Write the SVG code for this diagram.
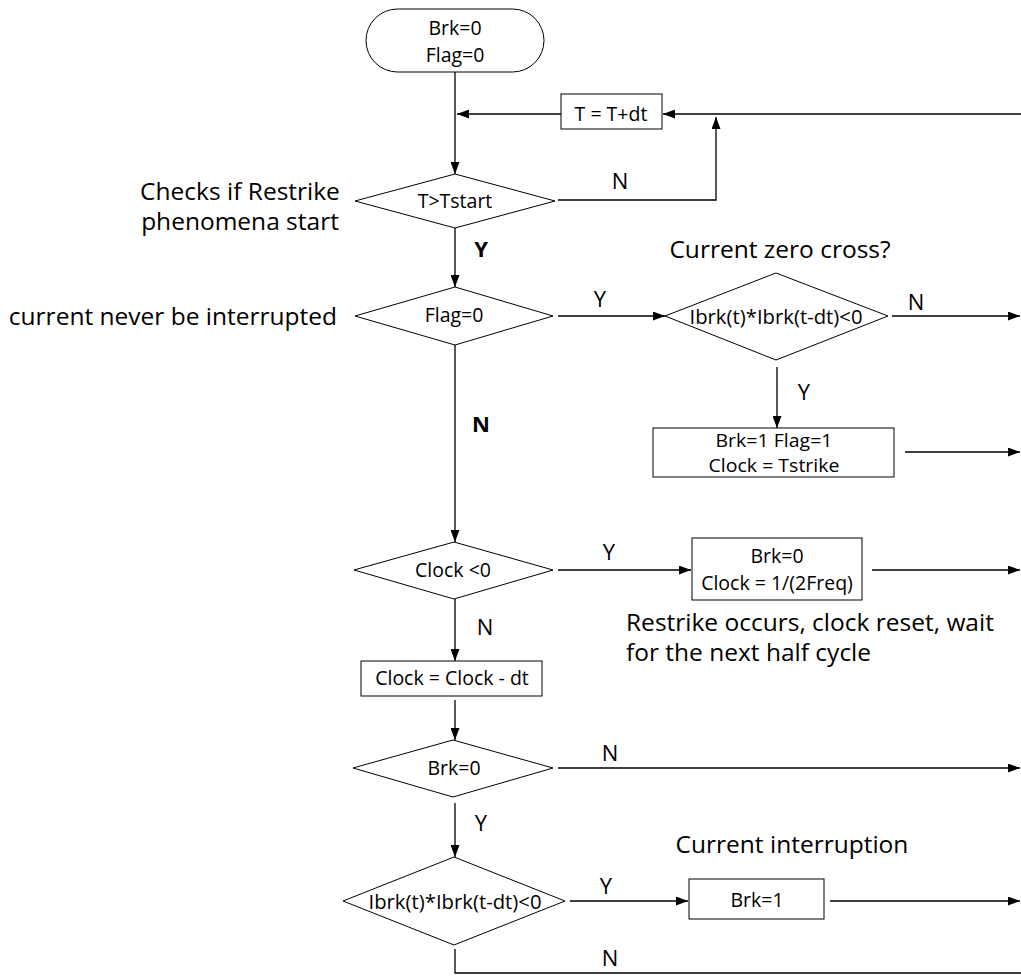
<svg xmlns="http://www.w3.org/2000/svg" width="1021" height="976" viewBox="0 0 1021 976">
<defs>
<marker id="ah" markerUnits="userSpaceOnUse" markerWidth="13" markerHeight="9" refX="12" refY="4.5" orient="auto">
<path d="M0,0 L12,4.5 L0,9 z" fill="#000"/>
</marker>
<style>
.shape{fill:#fff;stroke:#000;stroke-width:1}
.conn{fill:none;stroke:#000;stroke-width:1.3}
.arr{marker-end:url(#ah)}
text{font-family:'Open Sans','Noto Sans',sans-serif;fill:#000}
.t{font-size:19.5px;text-anchor:middle}
.s{font-size:18px}
.ann{font-size:24.5px}
.lbl{font-size:22px;text-anchor:middle}
.b{font-weight:bold}
</style>
</defs>
<rect width="1021" height="976" fill="#fff"/>

<g id="connectors">
<path class="conn arr" d="M455,72 L455,174"/>
<path class="conn arr" d="M561,114 L457,114"/>
<path class="conn arr" d="M1021,114 L663,114"/>
<path class="conn arr" d="M558,200 L716,200 L716,117"/>
<path class="conn arr" d="M455,228 L455,287"/>
<path class="conn arr" d="M558,316 L665,316"/>
<path class="conn arr" d="M892,316 L1020,316"/>
<path class="conn arr" d="M777,367 L777,428"/>
<path class="conn arr" d="M905,452 L1020,452"/>
<path class="conn arr" d="M455,345 L455,542"/>
<path class="conn arr" d="M558,570 L691,570"/>
<path class="conn arr" d="M872,570 L1020,570"/>
<path class="conn arr" d="M455,599 L455,661"/>
<path class="conn arr" d="M455,700 L455,740"/>
<path class="conn arr" d="M558,768 L1020,768"/>
<path class="conn arr" d="M455,803 L455,857"/>
<path class="conn arr" d="M570,901 L688,901"/>
<path class="conn arr" d="M830,901 L1020,901"/>
<path class="conn" d="M455,949 L455,973 L1021,973"/>
</g>

<g id="start">
<rect class="shape" x="366" y="9" width="178" height="63" rx="31.5"/>
<text class="t" x="455" y="35">Brk=0</text>
<text class="t" x="455" y="62">Flag=0</text>
</g>

<g id="inc-time">
<rect class="shape" x="561" y="94" width="101" height="35"/>
<text class="t" x="611" y="121">T = T+dt</text>
</g>

<g id="check-start">
<polygon class="shape" points="455,174 555,201 455,228 355,201"/>
<text class="t" x="455" y="208">T&gt;Tstart</text>
</g>

<g id="check-flag">
<polygon class="shape" points="455,287 553,316 455,345 355,316"/>
<text class="t" x="454" y="322">Flag=0</text>
</g>

<g id="zero-cross-1">
<polygon class="shape" points="776,273 888,316 776,360 665,316"/>
<text class="t" x="776" y="324" textLength="173" lengthAdjust="spacingAndGlyphs">Ibrk(t)*Ibrk(t-dt)&lt;0</text>
</g>

<g id="set-flag">
<rect class="shape" x="653" y="428" width="241" height="49"/>
<text class="t s" x="774" y="447" textLength="117" lengthAdjust="spacingAndGlyphs">Brk=1 Flag=1</text>
<text class="t s" x="774" y="472" textLength="131" lengthAdjust="spacingAndGlyphs">Clock = Tstrike</text>
</g>

<g id="check-clock">
<polygon class="shape" points="454,542 553,570 454,599 354,570"/>
<text class="t" x="453" y="577">Clock &lt;0</text>
</g>

<g id="restrike">
<rect class="shape" x="692" y="538" width="170" height="62"/>
<text class="t" x="777" y="563">Brk=0</text>
<text class="t" x="777" y="590">Clock = 1/(2Freq)</text>
</g>

<g id="dec-clock">
<rect class="shape" x="361" y="661" width="181" height="35"/>
<text class="t" x="452" y="685">Clock = Clock - dt</text>
</g>

<g id="check-brk">
<polygon class="shape" points="453,740 553,768 453,797 353,768"/>
<text class="t" x="454" y="775">Brk=0</text>
</g>

<g id="zero-cross-2">
<polygon class="shape" points="454,857 565,901 454,945 343,901"/>
<text class="t" x="455" y="909" textLength="173" lengthAdjust="spacingAndGlyphs">Ibrk(t)*Ibrk(t-dt)&lt;0</text>
</g>

<g id="interrupt">
<rect class="shape" x="689" y="879" width="135" height="40"/>
<text class="t" x="757" y="907">Brk=1</text>
</g>

<g id="annotations">
<text class="ann" x="240" y="200" text-anchor="middle">Checks if Restrike</text>
<text class="ann" x="240" y="230" text-anchor="middle">phenomena start</text>
<text class="ann" x="337" y="325" text-anchor="end">current never be interrupted</text>
<text class="ann" x="780" y="258" text-anchor="middle">Current zero cross?</text>
<text class="ann" x="626" y="631">Restrike occurs, clock reset, wait</text>
<text class="ann" x="626" y="661">for the next half cycle</text>
<text class="ann" x="792" y="853" text-anchor="middle">Current interruption</text>
</g>

<g id="labels">
<text class="lbl" x="620" y="189">N</text>
<text class="lbl b" x="481" y="257">Y</text>
<text class="lbl" x="600" y="307">Y</text>
<text class="lbl" x="916" y="310">N</text>
<text class="lbl" x="804" y="400">Y</text>
<text class="lbl b" x="481" y="432">N</text>
<text class="lbl" x="609" y="560">Y</text>
<text class="lbl" x="485" y="635">N</text>
<text class="lbl" x="610" y="761">N</text>
<text class="lbl" x="481" y="831">Y</text>
<text class="lbl" x="606" y="894">Y</text>
<text class="lbl" x="610" y="966">N</text>
</g>
</svg>
